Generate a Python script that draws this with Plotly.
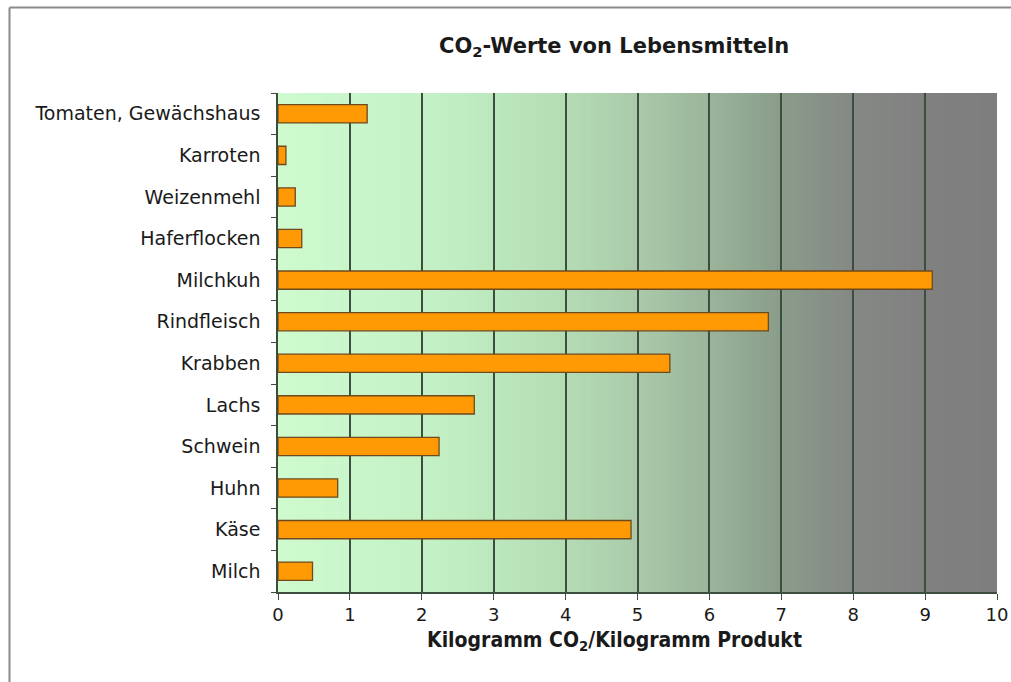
import plotly.graph_objects as go

categories = ["Tomaten, Gewächshaus", "Karroten", "Weizenmehl", "Haferflocken",
              "Milchkuh", "Rindfleisch", "Krabben", "Lachs", "Schwein",
              "Huhn", "Käse", "Milch"]
values = [1.24, 0.11, 0.24, 0.33, 9.10, 6.82, 5.45, 2.73, 2.24, 0.83, 4.91, 0.48]
x_ticks = list(range(0, 11))

W, H = 1011, 682
L, R, T, B = 278, 997, 93, 592

# background gradient stops (x value, rgb)
grad_stops = [(0, (206, 250, 206)), (2, (196, 242, 198)), (3, (188, 232, 190)),
              (4, (180, 220, 180)), (5, (170, 202, 170)), (6, (154, 180, 154)),
              (7, (138, 156, 138)), (8, (133, 136, 133)), (9, (128, 128, 128)),
              (10, (126, 126, 126))]

def interp(x):
    for (x0, c0), (x1, c1) in zip(grad_stops[:-1], grad_stops[1:]):
        if x0 <= x <= x1:
            t = (x - x0) / (x1 - x0)
            return "rgb(%d,%d,%d)" % tuple(round(a + (b - a) * t) for a, b in zip(c0, c1))
    return "rgb(126,126,126)"

shapes = []
n = 200
for i in range(n):
    x0 = 10 * i / n
    x1 = 10 * (i + 1) / n
    shapes.append(dict(type="rect", xref="x", yref="paper", x0=x0, x1=min(x1 + 0.01, 10),
                       y0=0, y1=1, fillcolor=interp((x0 + x1) / 2),
                       line=dict(width=0), layer="below"))

pw, ph = R - L, B - T
def px(xp):
    return (xp - L) / pw
def py(yp):
    return (B - yp) / ph

border = dict(color="#8a8a8a", width=2)
shapes.append(dict(type="line", xref="paper", yref="paper",
                   x0=px(9.5), x1=px(1011), y0=py(7.5), y1=py(7.5), line=border))
shapes.append(dict(type="line", xref="paper", yref="paper",
                   x0=px(9.5), x1=px(9.5), y0=py(7.5), y1=py(682), line=border))

fig = go.Figure()
fig.add_trace(go.Bar(
    y=categories, x=values, orientation="h",
    marker=dict(color="#FF9A05", line=dict(color="#6e4a1c", width=1.3)),
    width=0.44,
))

font = "DejaVu Sans, Liberation Sans, Arial, sans-serif"
fig.update_layout(
    width=W, height=H,
    margin=dict(l=L, r=W - R, t=T, b=H - B, pad=0, autoexpand=False),
    paper_bgcolor="white", plot_bgcolor="rgba(0,0,0,0)",
    showlegend=False,
    shapes=shapes,
    font=dict(family=font, color="#1a1a1a", size=19),
    annotations=[
        dict(text="<b>CO<sub>2</sub>-Werte von Lebensmitteln</b>", xref="paper", yref="paper",
             x=px(614), y=py(47), showarrow=False, font=dict(size=21, family=font),
             xanchor="center", yanchor="middle"),
        dict(text="<b>Kilogramm CO<sub>2</sub>/Kilogramm Produkt</b>", xref="paper", yref="paper",
             x=px(614), y=py(641), showarrow=False,
             font=dict(size=21, family="DejaVu Sans Condensed, Liberation Sans, Arial"),
             xanchor="center", yanchor="middle"),
    ],
)
fig.update_xaxes(
    range=[0, 10], tickvals=x_ticks, ticktext=[str(v) for v in x_ticks],
    showgrid=True, gridcolor="#3e4e3e", gridwidth=1.5,
    showline=True, linecolor="#3e4e3e", linewidth=1.5,
    ticks="outside", ticklen=6, tickcolor="#3e4e3e",
    tickfont=dict(size=18), zeroline=False, ticklabelstandoff=0, automargin=False,
)
fig.update_yaxes(
    categoryorder="array", categoryarray=categories[::-1],
    showgrid=False, showline=True, linecolor="#3e4e3e", linewidth=1.5,
    ticks="outside", ticklen=5, tickcolor="#3e4e3e", tickson="boundaries",
    tickfont=dict(size=19), ticklabelstandoff=12, automargin=False,
)
fig.write_html("out.html", config={"displayModeBar": False})
